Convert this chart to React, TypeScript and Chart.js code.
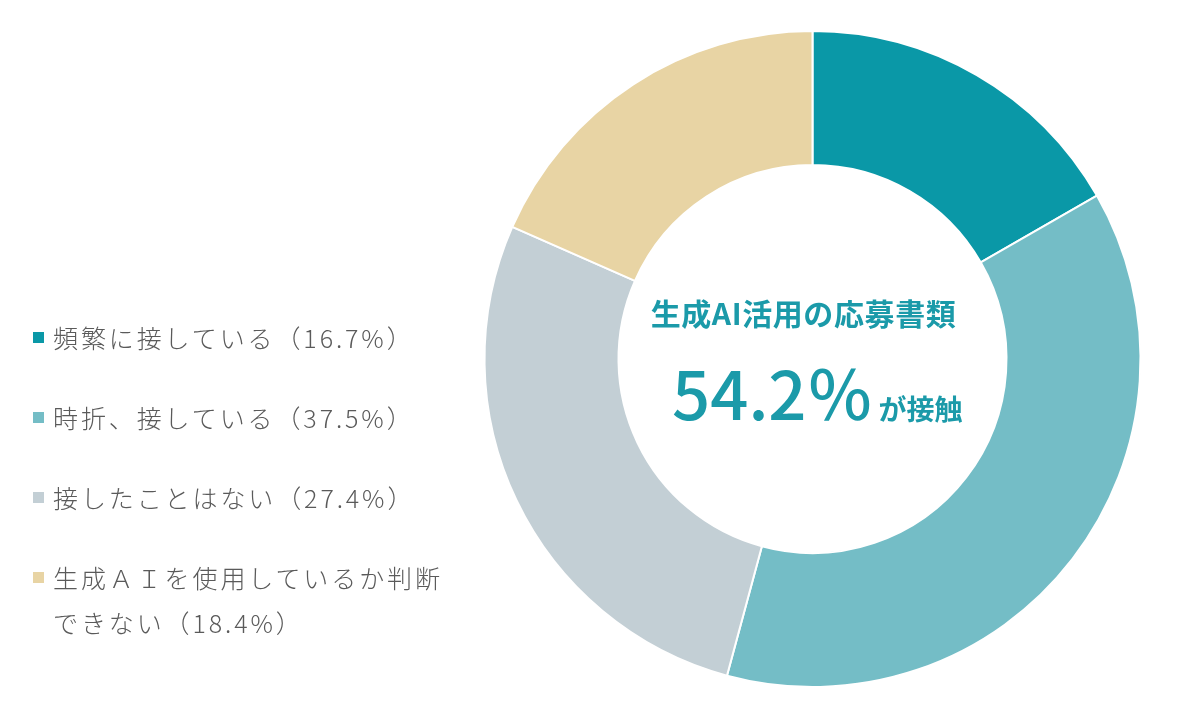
import React, { useEffect, useRef } from "react";
import { Chart, registerables } from "chart.js";

Chart.register(...registerables);

const categories = [
  "頻繁に接している",
  "時折、接している",
  "接したことはない",
  "生成ＡＩを使用しているか判断できない",
];
const legendLines = [
  ["頻繁に接している（16.7%）"],
  ["時折、接している（37.5%）"],
  ["接したことはない（27.4%）"],
  ["生成ＡＩを使用しているか判断", "できない（18.4%）"],
];
const values = [16.7, 37.5, 27.4, 18.4];
const colors = ["#0A98A7", "#74BDC6", "#C3CFD5", "#E8D4A4"];
const centerTitle = "生成AI活用の応募書類";
const centerValue = "54.2％";
const centerSuffix = "が接触";

const FONT = '"Noto Sans CJK JP", "Noto Sans", sans-serif';
const TEAL = "#1B9AA9";

const centerTextPlugin = {
  id: "centerText",
  afterDraw(chart: any) {
    const arc = chart.getDatasetMeta(0).data[0];
    if (!arc) return;
    const cx = arc.x;
    const cy = arc.y;
    const ctx = chart.ctx;
    ctx.save();
    ctx.fillStyle = TEAL;
    ctx.textBaseline = "alphabetic";
    ctx.textAlign = "center";
    ctx.font = `bold 30px ${FONT}`;
    (ctx as any).letterSpacing = "0.6px";
    ctx.fillText(centerTitle, cx - 9, cy - 34);
    (ctx as any).letterSpacing = "0px";

    ctx.textAlign = "left";
    ctx.font = `500 67px ${FONT}`;
    const left = cx - 140.5;
    ctx.fillText(centerValue, left, cy + 61);
    const w = ctx.measureText(centerValue).width;
    ctx.font = `bold 28px ${FONT}`;
    ctx.fillText(centerSuffix, left + w + 5, cy + 61);
    ctx.restore();
  },
};

export default function App() {
  const canvasRef = useRef<HTMLCanvasElement | null>(null);

  useEffect(() => {
    if (!canvasRef.current) return;
    const chart = new Chart(canvasRef.current, {
      type: "doughnut",
      data: {
        labels: categories,
        datasets: [
          {
            data: values,
            backgroundColor: colors,
            borderColor: "#ffffff",
            borderWidth: 2,
            hoverOffset: 0,
          },
        ],
      },
      options: {
        responsive: false,
        animation: false,
        cutout: 194,
        layout: {
          padding: { left: 483.5, right: 58.5, top: 30, bottom: 32 },
        },
        plugins: {
          legend: { display: false },
          tooltip: { enabled: false },
        },
      },
      plugins: [centerTextPlugin],
    });
    return () => chart.destroy();
  }, []);

  const rowCenters = [337, 417, 497, 577];
  return (
    <div
      style={{
        position: "fixed",
        left: 0,
        top: 0,
        width: 1200,
        height: 720,
        background: "#ffffff",
        overflow: "hidden",
      }}
    >
      <canvas
        ref={canvasRef}
        width={1200}
        height={720}
        style={{ position: "absolute", left: 0, top: 0 }}
      />
      {legendLines.map((lines, i) => (
        <div
          key={i}
          style={{
            position: "absolute",
            left: 33,
            top: rowCenters[i] - 22,
            fontFamily: FONT,
            fontSize: 25,
            fontWeight: 300,
            letterSpacing: "2.9px",
            color: "#5a5a5a",
            lineHeight: "45px",
            whiteSpace: "nowrap",
          }}
        >
          <span
            style={{
              position: "absolute",
              left: 0,
              top: 17,
              width: 11,
              height: 11,
              background: colors[i],
            }}
          />
          {lines.map((ln, j) => (
            <div key={j} style={{ marginLeft: 20 }}>
              {ln}
            </div>
          ))}
        </div>
      ))}
    </div>
  );
}
